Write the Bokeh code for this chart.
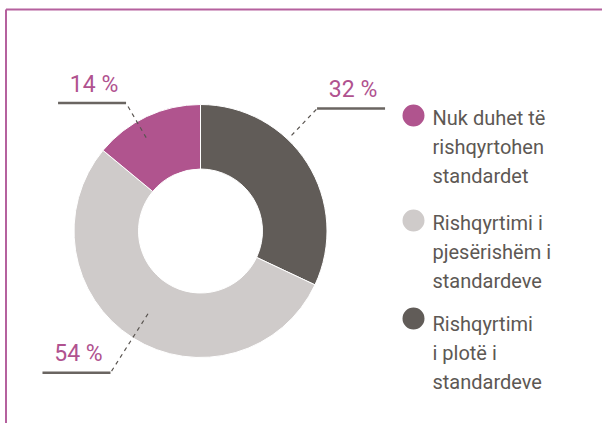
import numpy as np
from bokeh.plotting import figure
from bokeh.models import Range1d, ColumnDataSource
from bokeh.embed import file_html
from bokeh.resources import INLINE
from bokeh.core.properties import value

# ---- data ----
legend_lines = [
    ["Nuk duhet të", "rishqyrtohen", "standardet"],
    ["Rishqyrtimi i", "pjesërishëm i", "standardeve"],
    ["Rishqyrtimi", "i plotë i", "standardeve"],
]
shares = [14, 54, 32]          # percent
pct_labels = ["14 %", "54 %", "32 %"]
colors = ["#b0548e", "#cfcbca", "#615c58"]
# clockwise order from 12 o'clock
pie_order = [2, 1, 0]

# ---- layout (page pixels) ----
W, H = 602, 423
def Y(py):
    return H - py

cx, cy = 200, Y(230.5)
r_out, r_in = 126.5, 62
leader_adj = [-5, 0, -14]      # degrees offset from mid angle
leader_r0 = [108, 98, 132]
leader_r1 = [148, 168, 169]
underline_len = 68
label_up = 19
legend_circle_y = [115, 220, 318]
legend_text_y = [117, 222, 323]
legend_x_circle, legend_x_text = 413, 432
line_gap = 29

FONT = "Roboto"
TXT = "#5d5854"
MAG = "#b0528f"

p = figure(width=W, height=H, x_range=Range1d(0, W), y_range=Range1d(0, H),
           x_axis_type=None, y_axis_type=None, toolbar_location=None,
           output_backend="svg", min_border=0, outline_line_color=None)
p.xgrid.visible = False
p.ygrid.visible = False
p.background_fill_color = "white"

# border lines
p.line([5.5, 5.5], [Y(423), Y(9)], line_color="#b5619e", line_width=2)
p.line([5.5, W], [Y(9), Y(9)], line_color="#b5619e", line_width=2)

# donut
theta0 = 0.0
starts, ends, cols, mids = [], [], [], {}
for i in pie_order:
    t1 = theta0 + shares[i] / sum(shares) * 360
    # clockwise-from-top -> bokeh anticlockwise from +x
    starts.append(np.deg2rad(90 - t1))
    ends.append(np.deg2rad(90 - theta0))
    cols.append(colors[i])
    mids[i] = (theta0 + t1) / 2
    theta0 = t1
src = ColumnDataSource(dict(x=[cx] * 3, y=[cy] * 3, s=starts, e=ends, c=cols))
p.annular_wedge(x="x", y="y", inner_radius=r_in, outer_radius=r_out, start_angle="s",
                end_angle="e", fill_color="c", line_color="white", line_width=1, source=src)

# leaders and percentage labels
for i in range(3):
    a = np.deg2rad(mids[i] + leader_adj[i])
    x0, y0 = cx + leader_r0[i] * np.sin(a), cy + leader_r0[i] * np.cos(a)
    x1, y1 = cx + leader_r1[i] * np.sin(a), cy + leader_r1[i] * np.cos(a)
    p.line([x0, x1], [y0, y1], line_color="#5a5551", line_width=1.2, line_dash="4 4")
    d = 1 if np.sin(a) > 0 else -1
    x2 = x1 + d * underline_len
    p.line([x1, x2], [y1, y1], line_color="#6a6561", line_width=2.5)
    p.text([(x1 + x2) / 2 + 2], [y1 + label_up], text=[pct_labels[i]], text_align="center",
           text_baseline="middle", text_color=MAG, text_font=value(FONT),
           text_font_size="23px")

# legend
leg_order = [0, 1, 2]
for k, i in enumerate(leg_order):
    p.scatter([legend_x_circle], [Y(legend_circle_y[k])], size=22, marker="circle",
              fill_color=colors[i], line_color=None)
    for j, ln in enumerate(legend_lines[i]):
        p.text([legend_x_text], [Y(legend_text_y[k] + j * line_gap)], text=[ln],
               text_align="left", text_baseline="middle", text_color=TXT,
               text_font=value(FONT), text_font_size="20px")

open("out.html", "w").write(file_html(p, INLINE))
